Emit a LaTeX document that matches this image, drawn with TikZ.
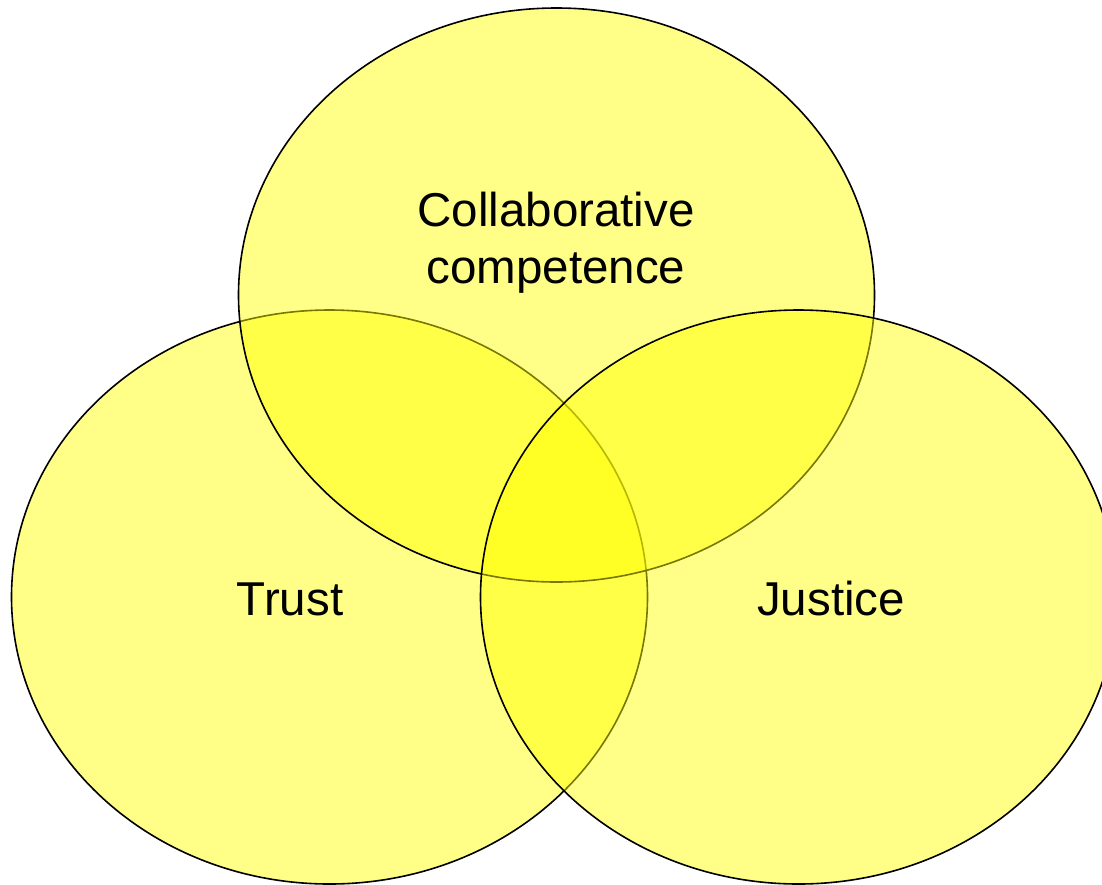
\documentclass[tikz,border=0pt]{standalone}
\usepackage{fontspec}
\setmainfont{Liberation Sans}
\usetikzlibrary{shapes.geometric}
\definecolor{setyellow}{RGB}{255,255,0}
\begin{document}
\begin{tikzpicture}[x=1pt,y=-1pt,
  setoval/.style={ellipse, draw=black, line width=1.6pt, fill=setyellow,
    fill opacity=0.47, inner sep=0pt, minimum width=636pt, minimum height=574pt},
  setlabel/.style={font=\fontsize{47.5}{57}\selectfont, align=center, text=black}]
  \useasboundingbox (0,0) rectangle (1102,884);
  % three overlapping sets, drawn left, top, right
  \node[setoval] (trustset)   at (329.5,597) {};
  \node[setoval] (collabset)  at (556.5,295) {};
  \node[setoval] (justiceset) at (798.5,597) {};
  % labels
  \node[setlabel] (collab)  at (556,243) {Collaborative\\competence};
  \node[setlabel] (trust)   at (290,599) {Trust};
  \node[setlabel] (justice) at (831,599) {Justice};
\end{tikzpicture}
\end{document}
